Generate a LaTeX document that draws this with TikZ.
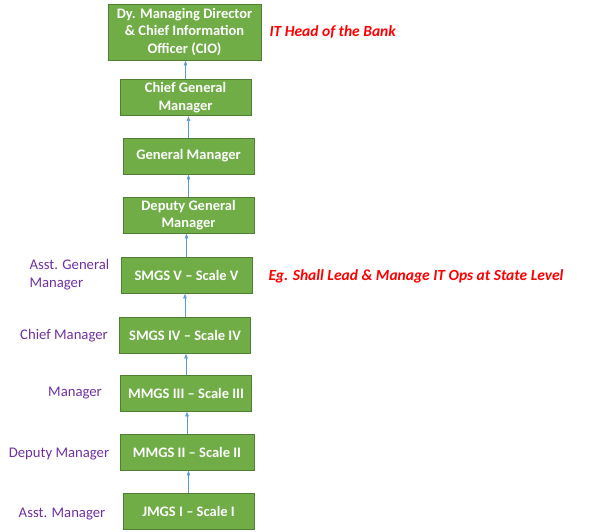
\documentclass[tikz,border=0pt]{standalone}
\usepackage{fontspec}
\setmainfont{Carlito}
\usetikzlibrary{arrows.meta}
\definecolor{boxgreen}{HTML}{70AD47}
\definecolor{boxedge}{HTML}{507E32}
\definecolor{arrowblue}{HTML}{5B9BD5}
\definecolor{rolepurple}{HTML}{7030A0}
\tikzset{
	grade/.style={draw=boxedge, fill=boxgreen, text=white, thick,
		font=\fontsize{14.5}{17.5}\selectfont\bfseries, align=center,
		minimum width=131pt, minimum height=36pt, inner sep=1pt},
	role/.style={text=rolepurple, font=\fontsize{14.7}{18}\selectfont},
	remark/.style={text=red, anchor=west, font=\fontsize{15.5}{17}\selectfont\bfseries\itshape},
	up/.style={-{Latex[length=5pt,width=4pt]}, arrowblue, semithick}
}
\begin{document}
\begin{tikzpicture}[x=1pt,y=-1pt]
	\useasboundingbox (0,0) rectangle (602,532);
	% boxes
	\node[grade, minimum width=153pt, minimum height=56pt] (cio) at (184.5,32)
		{Dy. Managing Director\\ \& Chief Information\\ Officer (CIO)};
	\node[grade] (cgm) at (185.5,97.5) {Chief General\\ Manager};
	\node[grade] (gm) at (188.5,156) {General Manager};
	\node[grade] (dgm) at (188.5,215) {Deputy General\\ Manager};
	\node[grade] (s5) at (186.5,275) {SMGS V -- Scale V};
	\node[grade] (s4) at (185,335) {SMGS IV -- Scale IV};
	\node[grade] (m3) at (186,393) {MMGS III -- Scale III};
	\node[grade, minimum width=134pt] (m2) at (187,452) {MMGS II -- Scale II};
	\node[grade] (j1) at (188.5,511.5) {JMGS I -- Scale I};
	\foreach \a/\b in {cgm/cio, gm/cgm, dgm/gm, s5/dgm, s4/s5, m3/s4, m2/m3, j1/m2}
		\draw[up] (\a.north) -- (\a.north |- \b.south);

	% roles
	\node[role, align=left, anchor=west] (agm) at (26,274.5) {Asst. General\\Manager};
	\node[role] (cm) at (64,336) {Chief Manager};
	\node[role] (mgr) at (75,393) {Manager};
	\node[role] (dm) at (59,454) {Deputy Manager};
	\node[role] (am) at (62,514) {Asst. Manager};

	\node[remark] (head) at (266,32) {IT Head of the Bank};
	\node[remark] (state) at (265,276) {Eg. Shall Lead \& Manage IT Ops at State Level};
\end{tikzpicture}
\end{document}
